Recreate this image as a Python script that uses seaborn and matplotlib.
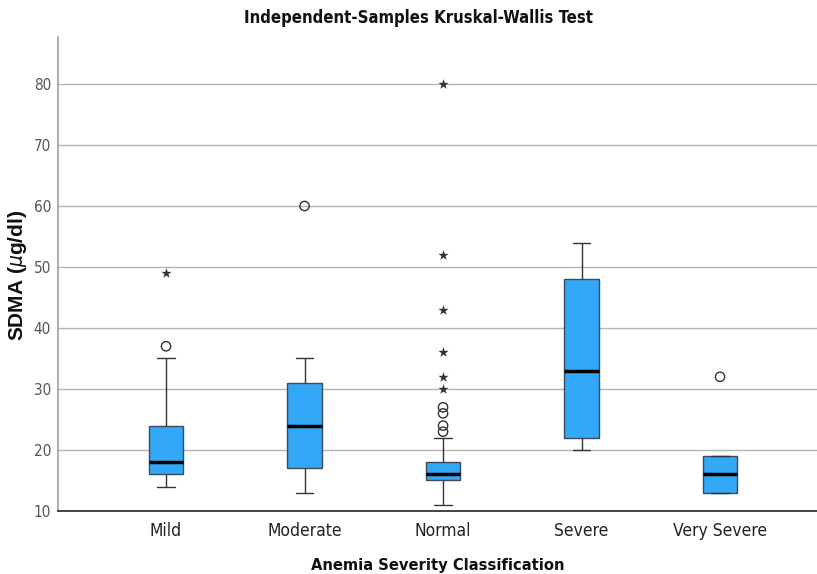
import numpy as np
import pandas as pd
import matplotlib
matplotlib.use("Agg")
import matplotlib.pyplot as plt
import seaborn as sns

# Five-number summaries per anemia class (SDMA, µg/dl)
categories = ["Mild", "Moderate", "Normal", "Severe", "Very Severe"]
whisker_low = [14, 13, 11, 20, 13]
q1 = [16, 17, 15, 22, 13]
median = [18, 24, 16, 33, 16]
q3 = [24, 31, 18, 48, 19]
whisker_high = [35, 35, 22, 54, 19]

# Outliers (circles) and extreme values (stars)
outlier_groups = ["Mild", "Moderate", "Normal", "Normal", "Normal", "Normal", "Very Severe"]
outlier_values = [37, 60, 27, 26, 24, 23, 32]
extreme_groups = ["Mild", "Normal", "Normal", "Normal", "Normal", "Normal", "Normal"]
extreme_values = [49, 80, 52, 43, 36, 32, 30]

yticks = [10, 20, 30, 40, 50, 60, 70, 80]

sns.set_theme(style="white")
plt.rcParams["font.family"] = ["DejaVu Sans"]
plt.rcParams["font.stretch"] = "condensed"

# Summary table: each group's five numbers reproduce its box and whiskers exactly
rows = []
for i, c in enumerate(categories):
    for v in (whisker_low[i], q1[i], median[i], q3[i], whisker_high[i]):
        rows.append({"group": c, "sdma": v})
box_df = pd.DataFrame(rows)
out_df = pd.DataFrame({"group": outlier_groups, "sdma": outlier_values})
ext_df = pd.DataFrame({"group": extreme_groups, "sdma": extreme_values})

fig = plt.figure(figsize=(8.17, 5.74), dpi=100)
ax = fig.add_axes([58 / 817, 1 - 511 / 574, 1 - 58 / 817, (511 - 37) / 574])

for y in yticks[1:]:
    ax.axhline(y, color="#b4b4b4", lw=1.0, zorder=0)

sns.boxplot(
    data=box_df, x="group", y="sdma", order=categories, whis=(0, 100),
    width=0.25, color="#33a8f7", saturation=1, linewidth=1.0,
    boxprops=dict(edgecolor="#3d4a5c"),
    whiskerprops=dict(color="#333333"),
    capprops=dict(color="#333333"),
    medianprops=dict(color="black", linewidth=2.5),
    showfliers=False, ax=ax, zorder=2,
)

sns.scatterplot(
    data=out_df, x="group", y="sdma", marker="o", s=45,
    facecolor="none", edgecolor="#333333", linewidth=1.0, ax=ax, zorder=3,
)
sns.scatterplot(
    data=ext_df, x="group", y="sdma", marker="*", s=60,
    color="#333333", linewidth=0, ax=ax, zorder=3,
)

ax.set_xlim(-0.78, 4.70)
ax.set_ylim(10, 87.7)
ax.set_yticks(yticks)
ax.set_yticklabels([str(t) for t in yticks], color="#555555", fontsize=11)
ax.tick_params(axis="x", labelsize=12.5, colors="#222222", length=0, pad=8)
ax.tick_params(axis="y", length=0, pad=5)

for side in ("top", "right"):
    ax.spines[side].set_visible(False)
ax.spines["left"].set_color("#a0a0a0")
ax.spines["left"].set_linewidth(1.2)
ax.spines["bottom"].set_color("#222222")
ax.spines["bottom"].set_linewidth(1.2)

ax.set_xlabel("Anemia Severity Classification", fontsize=11.8, fontweight="bold",
              color="#111111", labelpad=13)
ax.set_ylabel("SDMA ($\\mu$g/dl)", fontsize=15, fontweight="bold", color="#111111",
              family=["Liberation Sans", "DejaVu Sans"], fontstretch="normal")
ax.yaxis.set_label_coords(-0.038, 0.498)
ax.set_title("Independent-Samples Kruskal-Wallis Test", fontsize=12, fontweight="bold",
             color="#111111", pad=10, x=(418 - 58) / (817 - 58))

fig.savefig("out.png", dpi=100)
